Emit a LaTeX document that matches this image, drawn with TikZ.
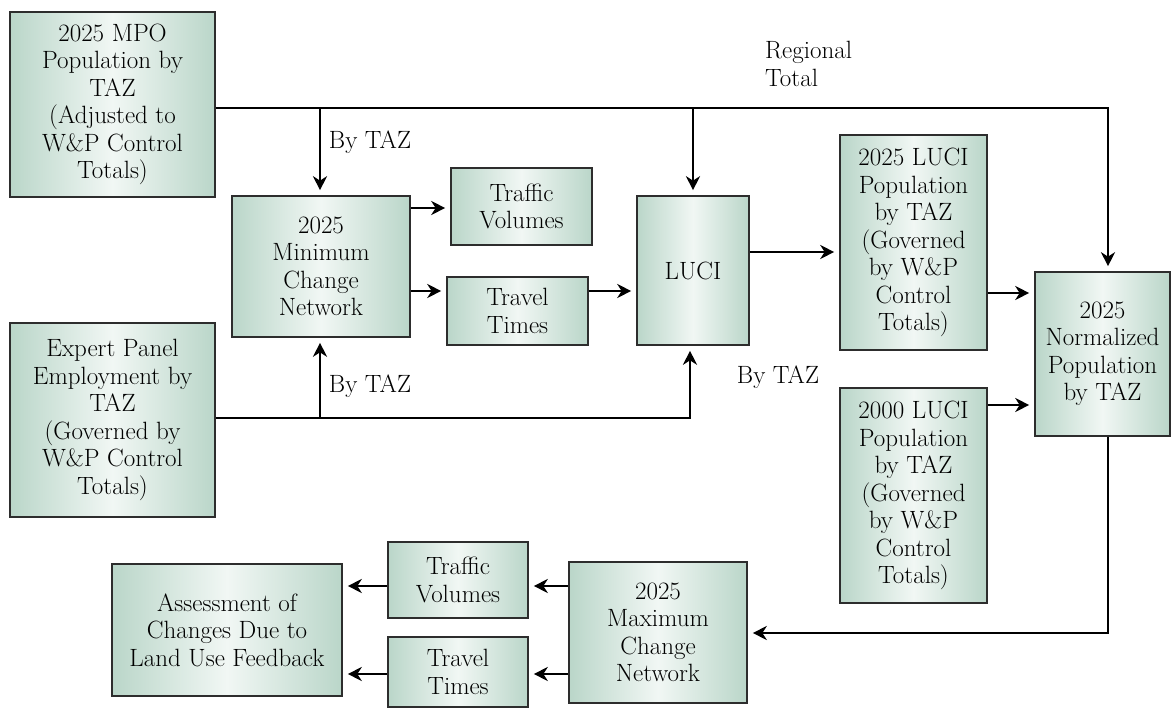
\documentclass[tikz,border=0pt]{standalone}
\usetikzlibrary{arrows.meta}
\definecolor{boxedge}{RGB}{186,214,201}
\definecolor{boxmid}{RGB}{241,247,244}
\definecolor{boxline}{RGB}{45,45,45}
\tikzset{
  flowbox/.style={draw=boxline, line width=1.6pt, rectangle, align=center,
    left color=boxedge, right color=boxedge, middle color=boxmid,
    inner sep=2pt, font=\fontsize{25}{27.5}\selectfont},
  conn/.style={line width=2.9pt, black},
  arr/.style={conn, -{Stealth[length=14pt,width=14pt,inset=4.5pt]}, shorten >=5pt},
  lbl/.style={font=\fontsize{25}{27.5}\selectfont, inner sep=0pt}
}
\begin{document}
\begin{tikzpicture}[x=1pt,y=-1pt]
\useasboundingbox (0,0) rectangle (1171,711);
% boxes
\node[flowbox, minimum width=205, minimum height=185] (mpo) at (112.5,104.5)
  {2025 MPO\\Population by\\TAZ\\(Adjusted to\\W\&P Control\\Totals)};
\node[flowbox, minimum width=205, minimum height=194] (exp) at (112.5,420)
  {Expert Panel\\Employment by\\TAZ\\(Governed by\\W\&P Control\\Totals)};
\node[flowbox, minimum width=178, minimum height=141] (minc) at (321,266.5)
  {2025\\Minimum\\Change\\Network};
\node[flowbox, minimum width=141, minimum height=77] (trafu) at (521.5,206.5)
  {Traffic\\Volumes};
\node[flowbox, minimum width=141, minimum height=68] (travu) at (517.5,311)
  {Travel\\Times};
\node[flowbox, minimum width=112, minimum height=149] (luci) at (693,270.5)
  {LUCI};
\node[flowbox, minimum width=147, minimum height=215] (luci25) at (913.5,242.5)
  {2025 LUCI\\Population\\by TAZ\\(Governed\\by W\&P\\Control\\Totals)};
\node[flowbox, minimum width=147, minimum height=215] (luci00) at (913.5,495.5)
  {2000 LUCI\\Population\\by TAZ\\(Governed\\by W\&P\\Control\\Totals)};
\node[flowbox, minimum width=135, minimum height=164] (norm) at (1102.5,354)
  {2025\\Normalized\\Population\\by TAZ};
\node[flowbox, minimum width=178, minimum height=141] (maxc) at (658,632.5)
  {2025\\Maximum\\Change\\Network};
\node[flowbox, minimum width=140, minimum height=76] (trafl) at (458,580)
  {Traffic\\Volumes};
\node[flowbox, minimum width=140, minimum height=70] (travl) at (458,672)
  {Travel\\Times};
\node[flowbox, minimum width=230, minimum height=132] (assess) at (227,630)
  {Assessment of\\Changes Due to\\Land Use Feedback};
% labels
\node[lbl] (l1) at (370,142) {By TAZ};
\node[lbl] (l2) at (370,386) {By TAZ};
\node[lbl] (l3) at (778,377) {By TAZ};
\node[lbl, anchor=west, align=left] (l4) at (765,64) {Regional\\Total};
% junction coordinates
\coordinate (j1) at (320,108);
\coordinate (j2) at (693,108);
\coordinate (c1) at (1108,108);
\coordinate (j3) at (320,418);
\coordinate (c2) at (690,418);
\coordinate (c3) at (1108,633);
\coordinate (y1) at (0,208);
\coordinate (y2) at (0,291);
\coordinate (y3) at (0,252);
\coordinate (y4) at (0,293);
\coordinate (y5) at (0,405);
\coordinate (y6) at (0,586);
\coordinate (y7) at (0,674);
% connectors
\draw[arr] (mpo.east |- c1) -- (c1) -- (c1 |- norm.north);
\draw[arr] (j1) -- (j1 |- minc.north);
\draw[arr] (j2) -- (j2 |- luci.north);
\draw[arr] (exp.east |- c2) -- (c2) -- (c2 |- luci.south);
\draw[arr] (j3) -- (j3 |- minc.south);
\draw[arr] (minc.east |- y1) -- (trafu.west |- y1);
\draw[arr] (minc.east |- y2) -- (travu.west |- y2);
\draw[arr] (travu.east |- y2) -- (luci.west |- y2);
\draw[arr] (luci.east |- y3) -- (luci25.west |- y3);
\draw[arr] (luci25.east |- y4) -- (norm.west |- y4);
\draw[arr] (luci00.east |- y5) -- (norm.west |- y5);
\draw[arr] (c3 |- norm.south) -- (c3) -- (maxc.east |- c3);
\draw[arr] (maxc.west |- y6) -- (trafl.east |- y6);
\draw[arr] (maxc.west |- y7) -- (travl.east |- y7);
\draw[arr] (trafl.west |- y6) -- (assess.east |- y6);
\draw[arr] (travl.west |- y7) -- (assess.east |- y7);
\end{tikzpicture}
\end{document}
